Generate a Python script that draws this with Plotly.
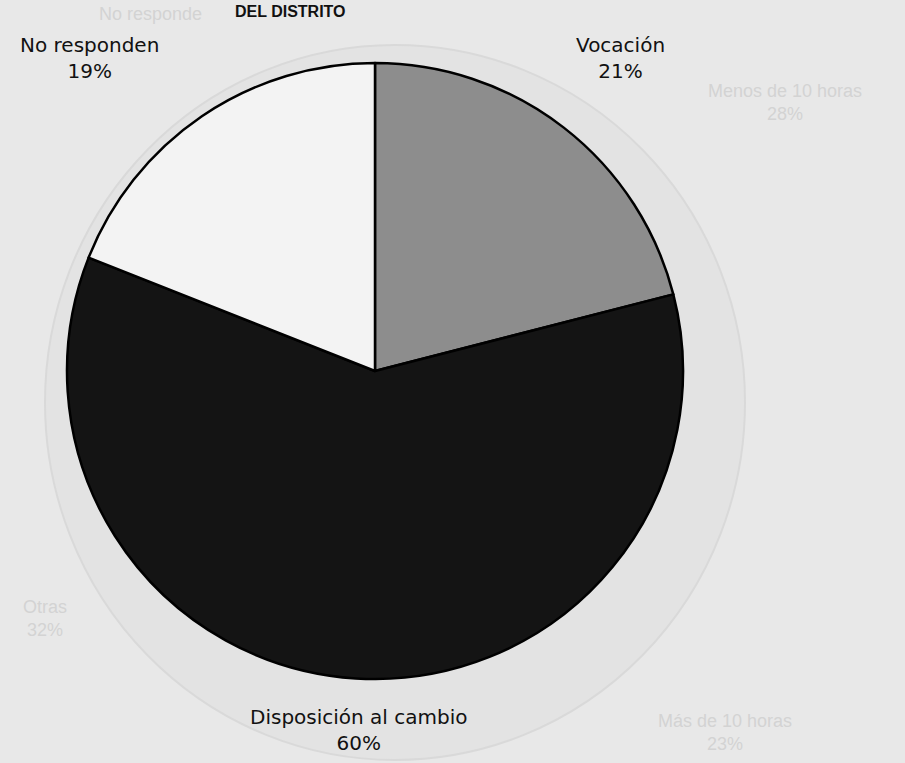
import plotly.graph_objects as go

# datos del grafico (motivos de docentes del distrito)
etiquetas = ["Vocación", "Disposición al cambio", "No responden"]
porcentajes = [21, 60, 19]
colores = ["#8d8d8d", "#141414", "#f3f3f3"]

titulo = "DEL DISTRITO"

# texto fantasma que se transparenta desde la otra cara de la hoja
fantasma = ["No responde", "Menos de 10 horas<br>28%", "Otras<br>32%", "Más de 10 horas<br>23%"]

W, H = 905, 763
fondo = "#e8e8e8"

fig = go.Figure()
fig.add_trace(go.Pie(
    labels=etiquetas,
    values=porcentajes,
    sort=False,
    direction="clockwise",
    rotation=0,
    marker=dict(colors=colores, line=dict(color="#000000", width=2.5)),
    textinfo="none",
    hoverinfo="label+percent",
    domain=dict(x=[65 / W, 685 / W], y=[1 - 679 / H, 1 - 63 / H]),
    showlegend=False,
))


def px(x, y):
    return x / W, 1 - y / H


fuente = dict(family="DejaVu Sans, Arial", size=20, color="#111111")
posiciones = {
    "Vocación": (620, 58),
    "Disposición al cambio": (359, 730),
    "No responden": (89, 58),
}
anots = []
for lab, val in zip(etiquetas, porcentajes):
    x, y = px(*posiciones[lab])
    anots.append(dict(x=x, y=y, xref="paper", yref="paper", showarrow=False,
                      text=f"{lab}<br>{val}%", font=fuente, align="center",
                      xanchor="center", yanchor="middle"))

# titulo pegado al borde superior
x, y = px(290, 11)
anots.append(dict(x=x, y=y, xref="paper", yref="paper", showarrow=False, text=f"<b>{titulo}</b>",
                  font=dict(family="Liberation Sans, Arial", size=16, color="#111111"),
                  xanchor="center", yanchor="middle"))

pos_fantasma = [(150, 14), (785, 102), (45, 618), (725, 732)]
for t, (gx, gy) in zip(fantasma, pos_fantasma):
    x, y = px(gx, gy)
    anots.append(dict(x=x, y=y, xref="paper", yref="paper", showarrow=False, text=t,
                      font=dict(family="Liberation Sans, Arial", size=18, color="#d3d3d3"),
                      xanchor="center", yanchor="middle"))

# contorno fantasma del otro grafico
x0, y1 = px(45, 45)
x1, y0 = px(745, 760)
fig.update_layout(
    width=W, height=H,
    margin=dict(l=0, r=0, t=0, b=0),
    paper_bgcolor=fondo,
    plot_bgcolor=fondo,
    annotations=anots,
    shapes=[dict(type="circle", xref="paper", yref="paper", x0=x0, x1=x1, y0=y0, y1=y1,
                 line=dict(color="#d9d9d9", width=2), fillcolor="rgba(0,0,0,0.02)", layer="below")],
)

fig.write_html("out.html", config={"displayModeBar": False},
               post_script="document.body.style.margin='0';document.body.style.overflow='hidden';")
